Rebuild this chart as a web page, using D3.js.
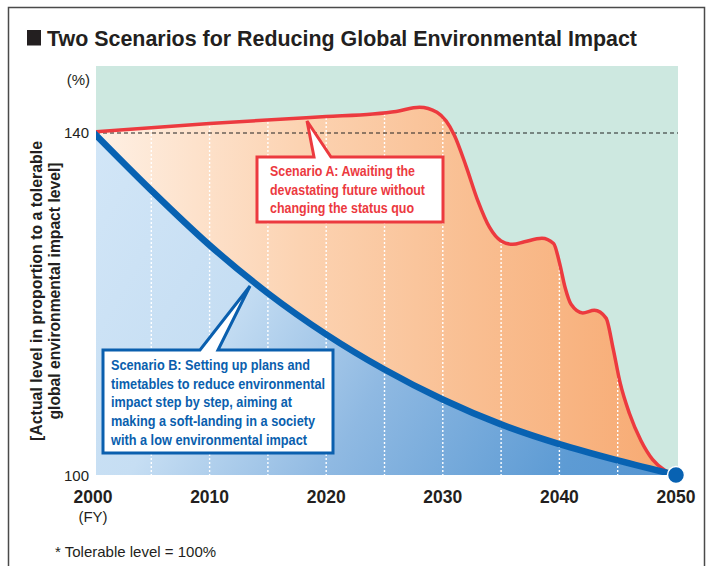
<!DOCTYPE html>
<html>
<head>
<meta charset="utf-8">
<script src="https://cdn.jsdelivr.net/npm/d3@7"></script>
<style>
  html, body { margin: 0; padding: 0; background: #fff; }
  svg { display: block; }
  text { font-family: 'Liberation Sans', Arial, sans-serif; }
  .narrow { font-family: 'Liberation Sans Narrow', 'Arial Narrow', 'Liberation Sans', Arial, sans-serif; }
</style>
</head>
<body>
<svg id="chart" width="707" height="566"></svg>
<script>
// ---------------- DATA ----------------
const titleText = "Two Scenarios for Reducing Global Environmental Impact";
const xTickYears = [2000, 2010, 2020, 2030, 2040, 2050];
const gridYears = [2005, 2010, 2015, 2020, 2025, 2030, 2035, 2040, 2045];
const yTickValues = [100, 140];
const toleranceValue = 140;

const scenarioAYears  = [2000, 2010, 2020, 2024, 2026, 2028, 2029.5, 2031, 2032, 2033, 2034, 2035, 2036, 2037, 2038.5, 2039.5, 2040, 2040.5, 2041, 2042, 2043, 2044, 2044.6, 2045.2, 2046, 2047, 2048, 2049, 2050];
const scenarioAValues = [140, 141.0, 141.8, 142.1, 142.4, 142.9, 142.3, 139.6, 136.0, 132.0, 128.9, 127.3, 126.9, 127.2, 127.6, 127.0, 124.8, 121.8, 119.9, 118.9, 119.2, 118.3, 114.8, 110.8, 107.2, 104.0, 101.8, 100.6, 100];

const scenarioBYears  = [2000, 2005, 2010, 2015, 2020, 2025, 2030, 2035, 2040, 2045, 2050];
const scenarioBValues = [140, 133.2, 126.8, 121.2, 116.4, 112.3, 108.8, 105.9, 103.6, 101.7, 100];

const calloutALines = ["Scenario A: Awaiting the", "devastating future without", "changing the status quo"];
const calloutBLines = ["Scenario B: Setting up plans and", "timetables to reduce environmental", "impact step by step, aiming at", "making a soft-landing in a society", "with a low environmental impact"];
const yAxisTitleLines = ["[Actual level in proportion to a tolerable", "global environmental impact level]"];
const footnoteText = "* Tolerable level = 100%";

// ---------------- LAYOUT ----------------
const svg = d3.select("#chart");
const plot = { left: 96, right: 678, top: 66, bottom: 475 };
const x = d3.scaleLinear().domain([2000, 2050]).range([93, 676]);
const y = d3.scaleLinear().domain([100, 140]).range([475, 132]);

const RED = "#ec3a3f", BLUE = "#0862b2", TEAL = "#cde8e0";

function fit(sel, w) { sel.attr("textLength", w).attr("lengthAdjust", "spacingAndGlyphs"); }

// frame
svg.append("rect").attr("x", 8.5).attr("y", 7.5).attr("width", 696).attr("height", 600)
  .attr("fill", "none").attr("stroke", "#4a4a4a").attr("stroke-width", 1.5);

// title
svg.append("rect").attr("x", 27).attr("y", 30).attr("width", 14).attr("height", 15.5).attr("fill", "#231f20");
svg.append("text").attr("class", "narrow").attr("x", 47).attr("y", 46)
  .attr("font-size", 22.5).attr("font-weight", "bold").attr("fill", "#231f20")
  .text(titleText).call(fit, 590);

// defs
const defs = svg.append("defs");
defs.append("clipPath").attr("id", "plotClip").append("rect")
  .attr("x", plot.left).attr("y", plot.top).attr("width", plot.right - plot.left).attr("height", plot.bottom - plot.top);

const og = defs.append("linearGradient").attr("id", "orangeGrad")
  .attr("gradientUnits", "userSpaceOnUse").attr("x1", plot.left).attr("y1", 0).attr("x2", plot.right).attr("y2", 0);
[[0, "#fef0e4"], [0.35, "#fcd3b2"], [0.65, "#f9be91"], [1, "#f7a971"]].forEach(s =>
  og.append("stop").attr("offset", s[0]).attr("stop-color", s[1]));

const bg = defs.append("linearGradient").attr("id", "blueGrad")
  .attr("gradientUnits", "userSpaceOnUse").attr("x1", plot.left).attr("y1", 132).attr("x2", plot.right).attr("y2", 475);
[[0, "#d2e6f7"], [0.3, "#c6def3"], [0.55, "#8fb9e2"], [0.85, "#5d9bd4"], [1, "#5595d1"]].forEach(s =>
  bg.append("stop").attr("offset", s[0]).attr("stop-color", s[1]));

const dataA = scenarioAYears.map((yr, i) => ({ yr, v: scenarioAValues[i] }));
const dataB = scenarioBYears.map((yr, i) => ({ yr, v: scenarioBValues[i] }));

const areaA = d3.area().x(d => x(d.yr)).y0(y(100)).y1(d => y(d.v)).curve(d3.curveMonotoneX);
const areaB = d3.area().x(d => x(d.yr)).y0(y(100)).y1(d => y(d.v)).curve(d3.curveMonotoneX);
const lineA = d3.line().x(d => x(d.yr)).y(d => y(d.v)).curve(d3.curveMonotoneX);
const lineB = d3.line().x(d => x(d.yr)).y(d => y(d.v)).curve(d3.curveMonotoneX);

defs.append("clipPath").attr("id", "underA").append("path").attr("d", areaA(dataA));

const g = svg.append("g").attr("clip-path", "url(#plotClip)");
g.append("rect").attr("x", plot.left).attr("y", plot.top).attr("width", plot.right - plot.left)
  .attr("height", plot.bottom - plot.top).attr("fill", TEAL);
g.append("path").attr("d", areaA(dataA)).attr("fill", "url(#orangeGrad)");
g.append("path").attr("d", areaB(dataB)).attr("fill", "url(#blueGrad)");

// dotted white gridlines, only under scenario A
g.append("g").attr("clip-path", "url(#underA)").selectAll("line").data(gridYears).join("line")
  .attr("x1", d => x(d)).attr("x2", d => x(d)).attr("y1", plot.top).attr("y2", plot.bottom)
  .attr("stroke", "#fff").attr("stroke-width", 1.4).attr("stroke-dasharray", "2,2");

// tolerable level dashed line
g.append("line").attr("x1", plot.left).attr("x2", plot.right)
  .attr("y1", y(toleranceValue) + 1).attr("y2", y(toleranceValue) + 1)
  .attr("stroke", "#222").attr("stroke-width", 1.2).attr("stroke-dasharray", "4,3");

g.append("path").attr("d", lineA(dataA)).attr("fill", "none").attr("stroke", RED).attr("stroke-width", 3.5)
  .attr("stroke-linejoin", "round");
g.append("path").attr("d", lineB(dataB)).attr("fill", "none").attr("stroke", BLUE).attr("stroke-width", 6.5)
  .attr("stroke-linejoin", "round");

// end dot
svg.append("circle").attr("cx", x(2050)).attr("cy", y(100)).attr("r", 8.5)
  .attr("fill", BLUE).attr("stroke", "#fff").attr("stroke-width", 1.5);

// axes labels
svg.append("g").selectAll("text").data(xTickYears).join("text")
  .attr("x", d => x(d)).attr("y", 503).attr("text-anchor", "middle")
  .attr("font-size", 17.5).attr("font-weight", "bold").attr("fill", "#231f20").text(d => d);
svg.append("text").attr("x", x(2000)).attr("y", 522).attr("text-anchor", "middle")
  .attr("font-size", 15).attr("fill", "#231f20").text("(FY)");

svg.append("g").selectAll("text").data(yTickValues).join("text")
  .attr("x", 89).attr("y", d => y(d) + 5.5).attr("text-anchor", "end")
  .attr("font-size", 15).attr("fill", "#231f20").text(d => d);
svg.append("text").attr("x", 90).attr("y", 85).attr("text-anchor", "end")
  .attr("font-size", 15).attr("fill", "#231f20").text("(%)");

// y axis title
const yt = svg.append("g").attr("transform", "translate(0,291)");
const ytWidths = [300, 257];
const ytX = [42, 60];
yAxisTitleLines.forEach((t, i) => {
  yt.append("text").attr("class", "narrow").attr("transform", `translate(${ytX[i]},0) rotate(-90)`)
    .attr("text-anchor", "middle").attr("font-size", 17).attr("font-weight", "bold").attr("fill", "#231f20")
    .text(t).call(fit, ytWidths[i]);
});

// callouts
function callout(box, base, tip, color, lines, textX, baselines, widths) {
  const p = d3.path();
  p.moveTo(box.x0, box.y0);
  p.lineTo(base[0], box.y0);
  p.lineTo(tip[0], tip[1]);
  p.lineTo(base[1], box.y0);
  p.lineTo(box.x1, box.y0);
  p.lineTo(box.x1, box.y1);
  p.lineTo(box.x0, box.y1);
  p.closePath();
  svg.append("path").attr("d", p.toString()).attr("fill", "#fff").attr("stroke", color)
    .attr("stroke-width", 3).attr("stroke-linejoin", "miter");
  lines.forEach((t, i) => {
    svg.append("text").attr("class", "narrow").attr("x", textX).attr("y", baselines[i])
      .attr("font-size", 15).attr("font-weight", "bold").attr("fill", color)
      .text(t).call(fit, widths[i]);
  });
}
callout({ x0: 257, y0: 157, x1: 443, y1: 222 }, [314, 331], [307, 121], RED,
  calloutALines, 270, [175.5, 194.5, 213], [145, 155, 144]);
callout({ x0: 103, y0: 350, x1: 333, y1: 453 }, [200, 218], [250, 286], "#0a5fae",
  calloutBLines, 111, [370, 388.5, 407, 426, 444.5], [199, 214, 181, 204, 196]);

// footnote
svg.append("text").attr("x", 55).attr("y", 557).attr("font-size", 15).attr("fill", "#231f20").text(footnoteText);
</script>
</body>
</html>
